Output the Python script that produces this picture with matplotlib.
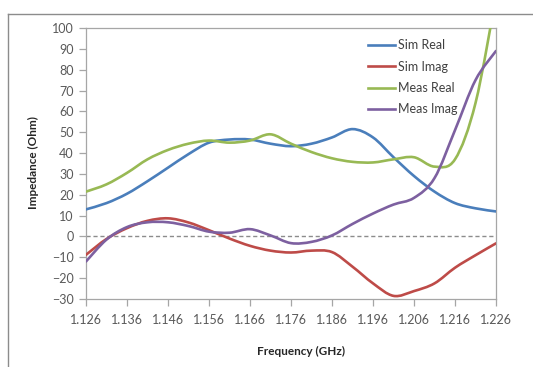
import numpy as np
import matplotlib.pyplot as plt
from matplotlib.path import Path
from matplotlib.patches import PathPatch
from matplotlib.lines import Line2D

plt.rcParams['font.family'] = ['Lato', 'DejaVu Sans']

freq = [1.126, 1.131, 1.136, 1.141, 1.146, 1.151, 1.156, 1.161, 1.166, 1.171, 1.176,
        1.181, 1.186, 1.191, 1.196, 1.201, 1.206, 1.211, 1.216, 1.221, 1.226]

sim_real = [13, 16, 20.5, 26.5, 33, 39.5, 45, 46.5, 46.5, 44.5, 43.3,
            44.5, 47.5, 51.5, 47.5, 38, 29, 21.5, 16, 13.5, 12]
sim_imag = [-8.8, -1.2, 4, 7.5, 8.7, 6.7, 3, -1, -4.5, -6.8, -7.7,
            -6.8, -7.5, -14.5, -22.5, -28.5, -26.2, -22.5, -15, -9, -3.3]
meas_real = [21.5, 25, 30.5, 37, 41.5, 44.5, 46, 45, 46, 49, 44.5,
             40.5, 37.5, 35.8, 35.5, 37, 38, 33.5, 37, 64, 115]
meas_imag = [-12, -1.5, 4.5, 6.8, 6.8, 5, 2.3, 1.8, 3.5, 0.5, -3.2,
             -2.6, 0.5, 6, 11, 15.3, 18.5, 28, 51, 75, 89]

series = [
    ('Sim Real', sim_real, '#4a7ebb'),
    ('Sim Imag', sim_imag, '#be4b48'),
    ('Meas Real', meas_real, '#98b954'),
    ('Meas Imag', meas_imag, '#7d60a0'),
]

xticks = [1.126, 1.136, 1.146, 1.156, 1.166, 1.176, 1.186, 1.196, 1.206, 1.216, 1.226]
yticks = list(range(-30, 101, 10))

grey_text = '#595959'
axis_grey = '#a6a6a6'


def smooth_path(x, y):
    # Bezier path through the points, like a spreadsheet "smoothed line"
    p = np.column_stack([x, y]).astype(float)
    n = len(p)
    verts = [p[0]]
    codes = [Path.MOVETO]
    for i in range(n - 1):
        p0 = p[i - 1] if i > 0 else p[i]
        p3 = p[i + 2] if i + 2 < n else p[i + 1]
        c1 = p[i] + (p[i + 1] - p0) / 6.0
        c2 = p[i + 1] - (p3 - p[i]) / 6.0
        verts += [c1, c2, p[i + 1]]
        codes += [Path.CURVE4] * 3
    return Path(verts, codes)


fig = plt.figure(figsize=(5.33, 3.67), dpi=100)

# outer chart border
fig.add_artist(Line2D([8 / 533, 1.0], [1 - 14 / 367, 1 - 14 / 367],
                      transform=fig.transFigure, color='#8c8c8c', lw=1.0))
fig.add_artist(Line2D([8 / 533, 8 / 533], [0, 1 - 14 / 367],
                      transform=fig.transFigure, color='#8c8c8c', lw=1.0))

ax = fig.add_axes([86 / 533, 1 - 299 / 367, 410 / 533, 271 / 367])

ax.axhline(0, color='#8c8c8c', lw=1.0, ls=(0, (3, 2)), zorder=1)

handles = []
for name, vals, color in series:
    patch = PathPatch(smooth_path(freq, vals), facecolor='none', edgecolor=color,
                      lw=1.9, zorder=3, capstyle='round', joinstyle='round')
    patch.set_clip_path(ax.patch)
    ax.add_patch(patch)
    handles.append(Line2D([], [], color=color, lw=1.9, label=name))

ax.set_xlim(1.126, 1.226)
ax.set_ylim(-30, 100)
ax.set_xticks(xticks)
ax.set_xticklabels([f'{t:.3f}' for t in xticks])
ax.set_yticks(yticks)

for side in ax.spines.values():
    side.set_color(axis_grey)
    side.set_linewidth(0.9)

ax.tick_params(axis='both', colors=axis_grey, labelcolor=grey_text,
               labelsize=9, length=5, width=0.9, direction='out')
ax.tick_params(axis='x', pad=6)
ax.tick_params(axis='y', pad=4)

ax.legend(handles=handles, loc='upper left', bbox_to_anchor=(0.66, 1.0),
          frameon=False, fontsize=9, handlelength=2.2, handletextpad=0.2,
          labelspacing=0.75, labelcolor='#404040')

fig.text(33 / 533, 1 - 163 / 367, 'Impedance (Ohm)', rotation=90, ha='center',
         va='center', fontsize=8.5, fontweight='bold', color='#262626')
fig.text(301 / 533, 1 - 351 / 367, 'Frequency (GHz)', ha='center', va='center',
         fontsize=8.5, fontweight='bold', color='#262626')

fig.savefig('out.png', dpi=100)
